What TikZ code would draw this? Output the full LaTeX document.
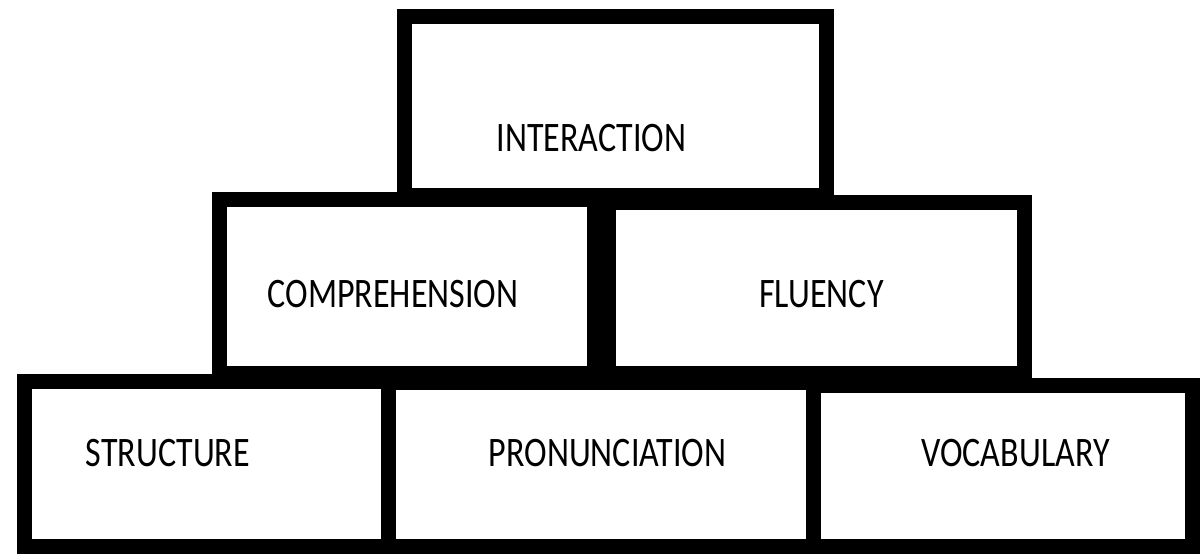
\documentclass[tikz,border=0pt]{standalone}
\usepackage{fontspec}
\setmainfont{Carlito}[FakeStretch=0.81]
\begin{document}
\begin{tikzpicture}[x=0.5pt,y=-0.5pt,
  blockbox/.style={draw=black,line width=7.5pt,rectangle,inner sep=0pt,outer sep=0pt,miter limit=10},
  lbl/.style={anchor=base,inner sep=0pt,font=\fontsize{21pt}{21pt}\selectfont}]
\useasboundingbox[fill=white] (0,0) rectangle (1202,553);
% boxes
\node[blockbox,minimum width=211pt,minimum height=89.25pt] (top) at (615,105.75) {};
\node[blockbox,minimum width=187.5pt,minimum height=87pt] (comp) at (406.5,286) {};
\node[blockbox,minimum width=208pt,minimum height=85.25pt] (flu) at (816,287.75) {};
\node[blockbox,minimum width=182.25pt,minimum height=82.25pt] (str) at (206.25,463.75) {};
\node[blockbox,minimum width=212.25pt,minimum height=81.75pt] (pro) at (600.75,464.25) {};
\node[blockbox,minimum width=189.5pt,minimum height=80.25pt] (voc) at (1002.5,465.75) {};
% labels
\node[lbl] (tInter) at (591.5,151) {INTERACTION};
\node[lbl] (tComp) at (393,307) {COMPREHENSION};
\node[lbl] (tFlu) at (821.5,307) {FLUENCY};
\node[lbl] (tStr) at (168,466) {STRUCTURE};
\node[lbl] (tPro) at (607.5,466) {PRONUNCIATION};
\node[lbl] (tVoc) at (1015.5,466) {VOCABULARY};
\end{tikzpicture}
\end{document}
